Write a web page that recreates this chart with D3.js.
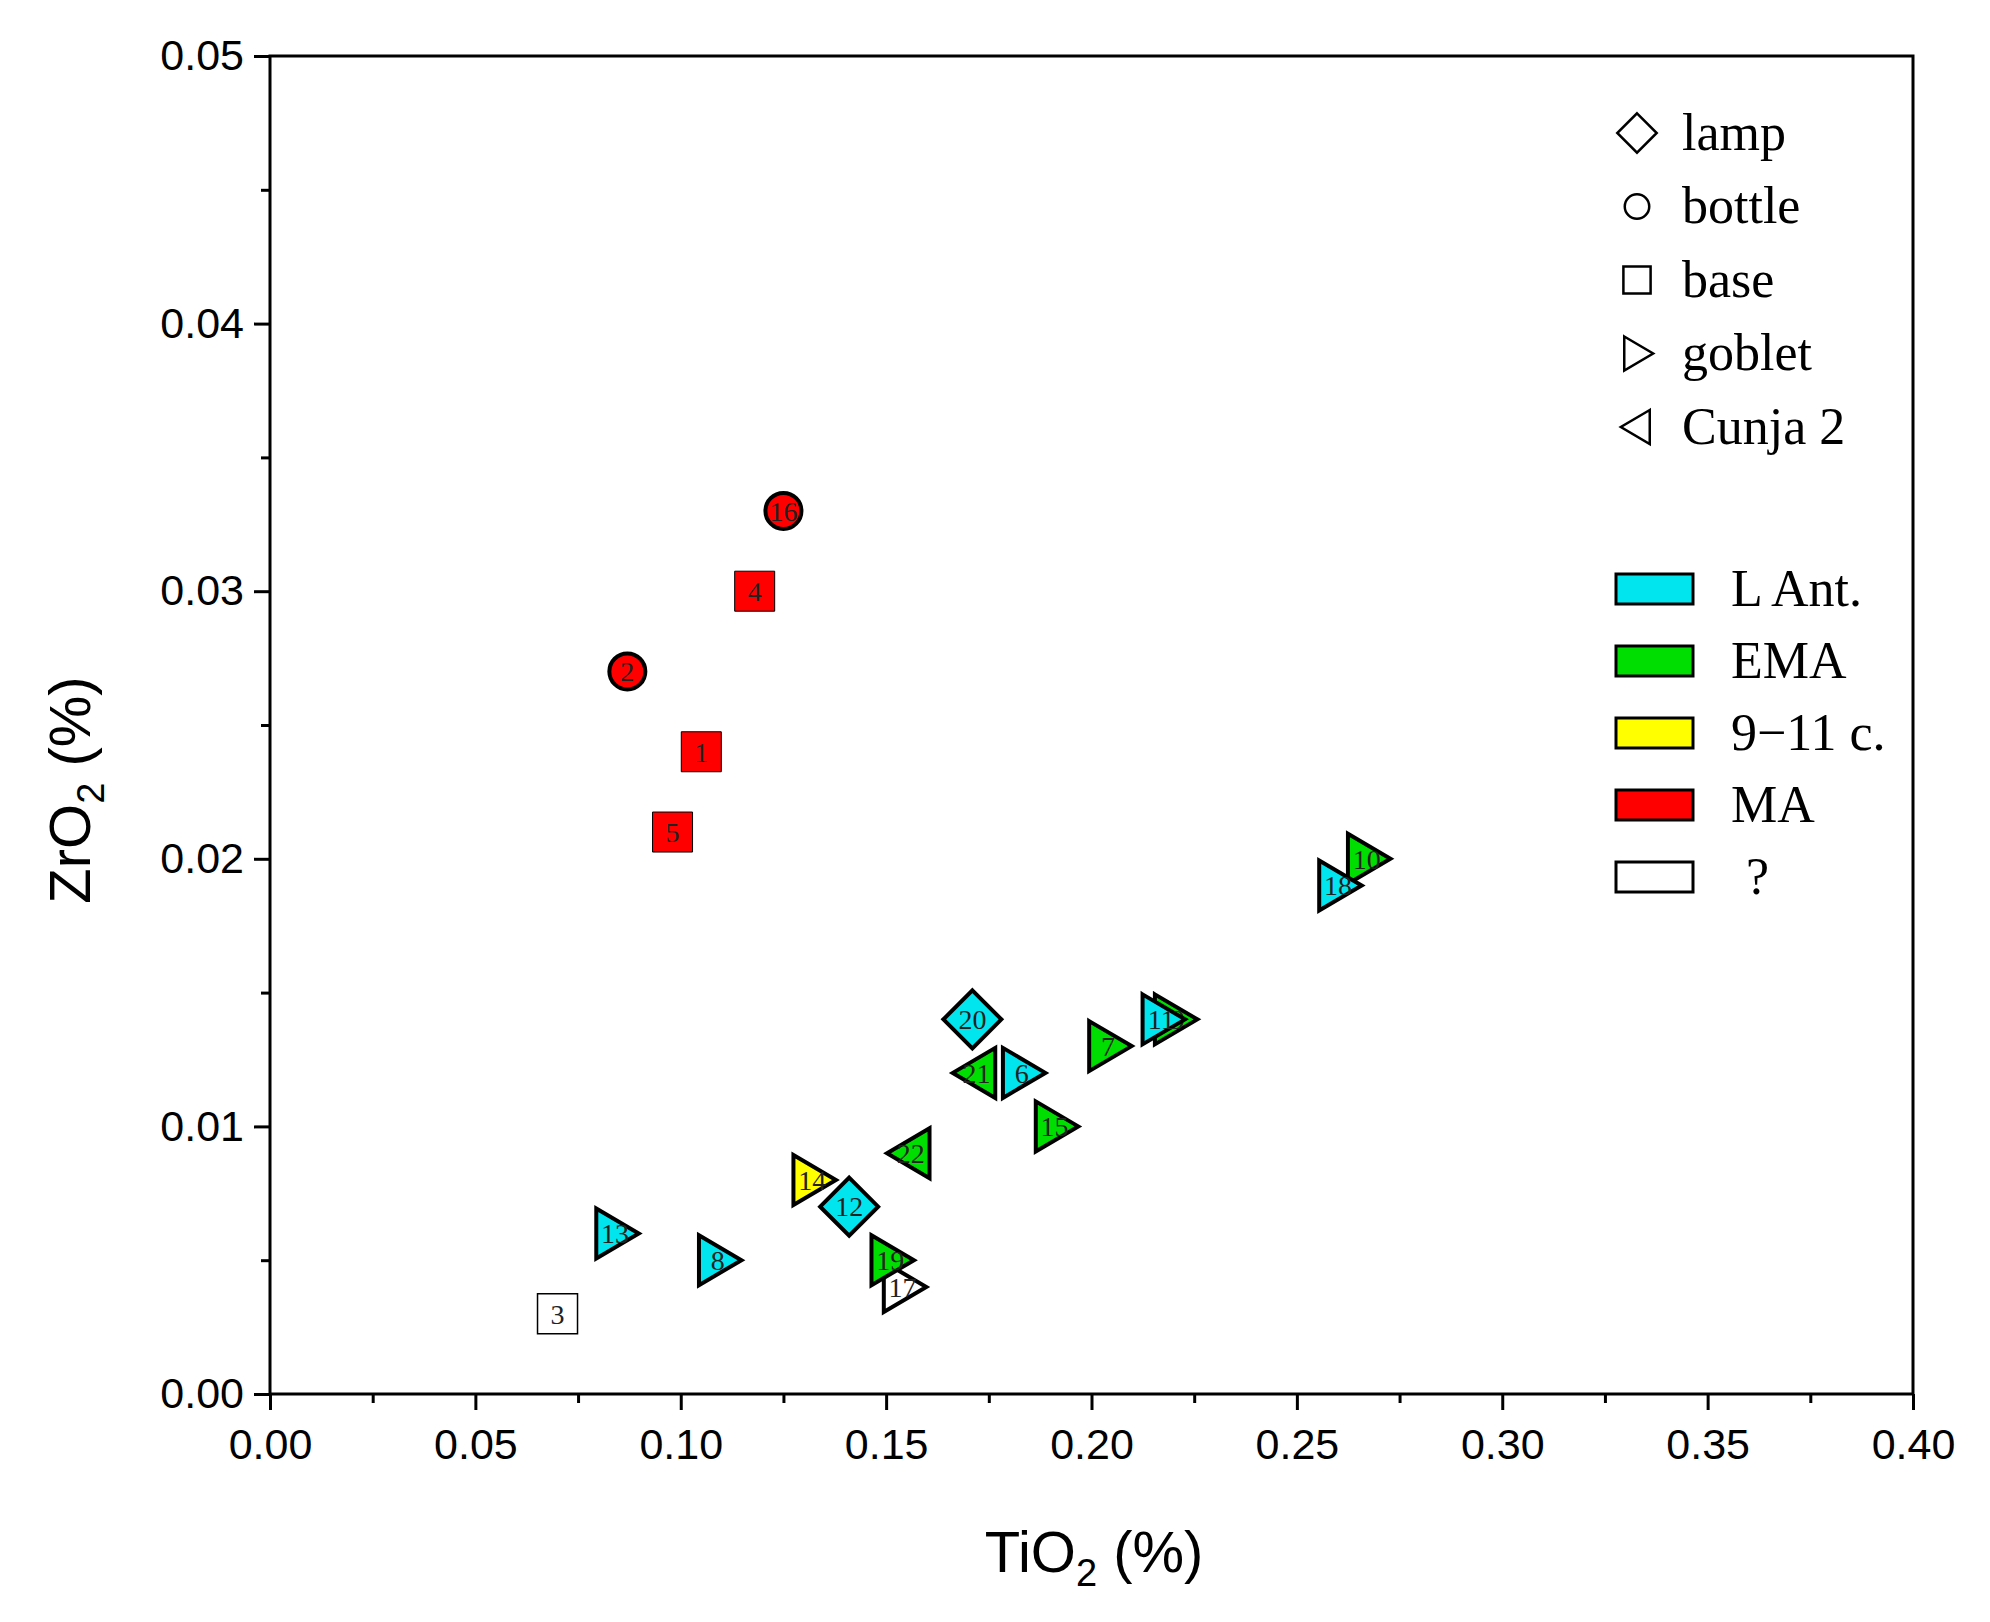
<!DOCTYPE html>
<html><head><meta charset="utf-8">
<script src="https://cdn.jsdelivr.net/npm/d3@7"></script>
<style>body{margin:0;background:#fff}</style></head>
<body><svg id="c" width="1990" height="1622"></svg>
<script>
const ids    = [1,2,3,4,5,6,7,8,9,10,11,12,13,14,15,16,17,18,19,20,21,22];
const tio2   = [0.105,0.087,0.070,0.118,0.098,0.183,0.204,0.109,0.220,0.267,0.217,0.141,0.084,0.132,0.191,0.125,0.154,0.260,0.151,0.171,0.172,0.156];
const zro2   = [0.024,0.027,0.003,0.030,0.021,0.012,0.013,0.005,0.014,0.020,0.014,0.007,0.006,0.008,0.010,0.033,0.004,0.019,0.005,0.014,0.012,0.009];
const types  = ["base","bottle","base","base","base","goblet","goblet","goblet","goblet","goblet","goblet","lamp","goblet","goblet","goblet","bottle","goblet","goblet","goblet","lamp","Cunja 2","Cunja 2"];
const periods= ["MA","MA","?","MA","MA","L Ant.","EMA","L Ant.","EMA","EMA","L Ant.","L Ant.","L Ant.","9\u221211 c.","EMA","MA","?","L Ant.","EMA","L Ant.","EMA","EMA"];
const shapeNames = ["lamp","bottle","base","goblet","Cunja 2"];
const periodNames = ["L Ant.","EMA","9\u221211 c.","MA","?"];
const periodColors = ["#00e5ee","#00dd00","#ffff00","#ff0000","#ffffff"];
const xTicks = [0,0.05,0.10,0.15,0.20,0.25,0.30,0.35,0.40];
const yTicks = [0,0.01,0.02,0.03,0.04,0.05];

const svg = d3.select("#c");
const L=270,R=1913,T=56,B=1394;
const x = d3.scaleLinear().domain([0,0.4]).range([L,R]);
const y = d3.scaleLinear().domain([0,0.05]).range([B,T]);
const col = d3.scaleOrdinal().domain(periodNames).range(periodColors);

svg.append("rect").attr("x",L).attr("y",T).attr("width",R-L).attr("height",B-T).attr("fill","none").attr("stroke","#000").attr("stroke-width",3);
const xa = svg.append("g").attr("transform",`translate(0,${B})`)
 .call(d3.axisBottom(x).tickValues(xTicks).tickFormat(d3.format(".2f")).tickSize(16).tickPadding(18));
const xm = svg.append("g").attr("transform",`translate(0,${B})`)
 .call(d3.axisBottom(x).tickValues(d3.range(0.025,0.4,0.05)).tickFormat("").tickSize(9));
const ya = svg.append("g").attr("transform",`translate(${L},0)`)
 .call(d3.axisLeft(y).tickValues(yTicks).tickFormat(d3.format(".2f")).tickSize(16).tickPadding(10));
const ym = svg.append("g").attr("transform",`translate(${L},0)`)
 .call(d3.axisLeft(y).tickValues(d3.range(0.005,0.05,0.01)).tickFormat("").tickSize(9));
[xa,xm,ya,ym].forEach(g=>{g.select(".domain").remove();g.selectAll("line").attr("stroke-width",3);
 g.selectAll("text").attr("font-family","Liberation Sans, Arial").attr("font-size",43).attr("fill","#000");});

svg.append("text").attr("x",1094).attr("y",1572).attr("text-anchor","middle")
 .attr("font-family","Liberation Sans, Arial").attr("font-size",58)
 .html('TiO<tspan font-size="38" dy="14">2</tspan><tspan dy="-14"> (%)</tspan>');
svg.append("text").attr("transform","translate(90,790) rotate(-90)").attr("text-anchor","middle")
 .attr("font-family","Liberation Sans, Arial").attr("font-size",58)
 .html('ZrO<tspan font-size="38" dy="14">2</tspan><tspan dy="-14"> (%)</tspan>');

function shapePath(t,s){
  if(t==="lamp"){const h=s*0.58;return `M0,${-h}L${h},0L0,${h}L${-h},0Z`;}
  if(t==="base"){const h=s*0.4;return `M${-h},${-h}H${h}V${h}H${-h}Z`;}
  if(t==="bottle"){const r=s*0.36;return `M${-r},0A${r},${r} 0 1 0 ${r},0A${r},${r} 0 1 0 ${-r},0Z`;}
  if(t==="goblet"){const h=s*0.5;return `M${-h*0.75},${-h}L${h*0.95},0L${-h*0.75},${h}Z`;}
  const h=s*0.5;return `M${h*0.75},${-h}L${-h*0.95},0L${h*0.75},${h}Z`;
}
const data = ids.map((id,i)=>({id,x:tio2[i],y:zro2[i],t:types[i],p:periods[i]}));
const order = data.slice().sort((a,b)=>(a.id===9?-1:0)-(b.id===9?-1:0));
const g = svg.append("g").selectAll("g").data(order).join("g")
 .attr("transform",d=>`translate(${x(d.x)},${y(d.y)})`);
g.append("path").attr("d",d=>shapePath(d.t,50)).attr("fill",d=>col(d.p))
 .attr("stroke","#000").attr("stroke-width",d=>d.t==="base"?(d.p==="?"?1.5:1):4).attr("stroke-linejoin","miter");
g.append("text").text(d=>d.id).attr("text-anchor","middle").attr("dy","0.35em")
 .attr("x",d=>d.id===9?4:0)
 .attr("font-family","Liberation Serif, Times New Roman").attr("font-size",28).attr("fill","#222");

const sl = svg.append("g").selectAll("g").data(shapeNames).join("g")
 .attr("transform",(d,i)=>`translate(1637,${133+i*73.5})`);
sl.append("path").attr("d",d=>shapePath(d,34)).attr("fill","#fff").attr("stroke","#000").attr("stroke-width",2.5);
sl.append("text").text(d=>d).attr("x",45).attr("dy","0.32em").attr("font-family","Liberation Serif, Times New Roman").attr("font-size",52);

const pl = svg.append("g").selectAll("g").data(periodNames).join("g")
 .attr("transform",(d,i)=>`translate(1616,${589+i*72})`);
pl.append("rect").attr("x",0).attr("y",-15).attr("width",77).attr("height",30).attr("fill",d=>col(d)).attr("stroke","#000").attr("stroke-width",3);
pl.append("text").text(d=>d).attr("x",d=>d==="?"?130:115).attr("dy","0.32em").attr("font-family","Liberation Serif, Times New Roman").attr("font-size",52);
</script></body></html>
